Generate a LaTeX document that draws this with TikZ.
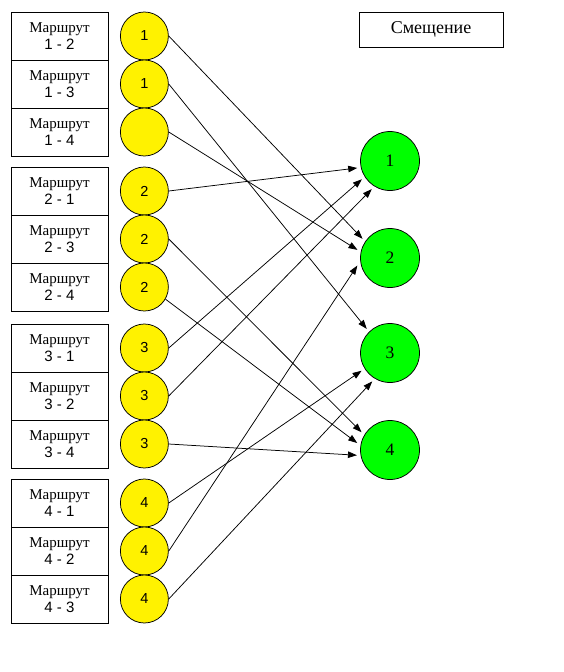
\documentclass[tikz,border=0pt]{standalone}
\usepackage{fontspec}
\setmainfont{Liberation Serif}
\setsansfont{Liberation Sans}
\usetikzlibrary{positioning,arrows.meta}

\tikzset{
  route/.style={draw, minimum width=97pt, minimum height=48pt, inner sep=0pt,
    outer sep=0pt, align=center, font=\fontsize{15}{17}\selectfont},
  src/.style={draw, circle, fill=yellow, minimum size=48pt, inner sep=0pt,
    font=\sffamily\fontsize{14.5}{17}\selectfont},
  dst/.style={draw, circle, fill=green, minimum size=59pt, inner sep=0pt,
    outer sep=4pt, font=\fontsize{17.5}{20}\selectfont},
  link/.style={-{Triangle[length=9pt,width=6.5pt]}}
}

\begin{document}
\begin{tikzpicture}[x=1pt, y=-1pt, line width=0.75pt]
  \useasboundingbox (0,0) rectangle (564,672);

  % routes, four groups
  \node[route] (r12) at (59.5,36) {Маршрут\\{\sffamily 1 - 2}};
  \node[route, below=0pt of r12] (r13) {Маршрут\\{\sffamily 1 - 3}};
  \node[route, below=0pt of r13] (r14) {Маршрут\\{\sffamily 1 - 4}};
  \node[route] (r21) at (59.5,191) {Маршрут\\{\sffamily 2 - 1}};
  \node[route, below=0pt of r21] (r23) {Маршрут\\{\sffamily 2 - 3}};
  \node[route, below=0pt of r23] (r24) {Маршрут\\{\sffamily 2 - 4}};
  \node[route] (r31) at (59.5,348) {Маршрут\\{\sffamily 3 - 1}};
  \node[route, below=0pt of r31] (r32) {Маршрут\\{\sffamily 3 - 2}};
  \node[route, below=0pt of r32] (r34) {Маршрут\\{\sffamily 3 - 4}};
  \node[route] (r41) at (59.5,503) {Маршрут\\{\sffamily 4 - 1}};
  \node[route, below=0pt of r41] (r42) {Маршрут\\{\sffamily 4 - 2}};
  \node[route, below=0pt of r42] (r43) {Маршрут\\{\sffamily 4 - 3}};

  % yellow circles
  \node[src, right=12pt of r12] (y12) {1};
  \node[src, right=12pt of r13] (y13) {1};
  \node[src, right=12pt of r14] (y14) {};
  \node[src, right=12pt of r21] (y21) {2};
  \node[src, right=12pt of r23] (y23) {2};
  \node[src, right=12pt of r24] (y24) {2};
  \node[src, right=12pt of r31] (y31) {3};
  \node[src, right=12pt of r32] (y32) {3};
  \node[src, right=12pt of r34] (y34) {3};
  \node[src, right=12pt of r41] (y41) {4};
  \node[src, right=12pt of r42] (y42) {4};
  \node[src, right=12pt of r43] (y43) {4};

  \node[draw, minimum width=144pt, minimum height=35pt, font=\fontsize{18}{20}\selectfont]
    (SHIFT) at (431,29.5) {Смещение};

  % green circles
  \node[dst] (g1) at (390,161) {1};
  \node[dst] (g2) at (390,258) {2};
  \node[dst] (g3) at (390,353) {3};
  \node[dst] (g4) at (390,450) {4};

  \draw[link] (y12.east) -- (g2.145);
  \draw[link] (y13.east) -- (g3.134);
  \draw[link] (y14.east) -- (g2.166);
  \draw[link] (y21.east) -- (g1.192);
  \draw[link] (y23.east) -- (g4.148);
  \draw[link] (y24.-30) -- (g4.168);
  \draw[link] (y31.east) -- (g1.213);
  \draw[link] (y32.east) -- (g1.237);
  \draw[link] (y34.east) -- (g4.189);
  \draw[link] (y41.east) -- (g3.212);
  \draw[link] (y42.east) -- (g2.193);
  \draw[link] (y43.east) -- (g3.238);
\end{tikzpicture}
\end{document}
